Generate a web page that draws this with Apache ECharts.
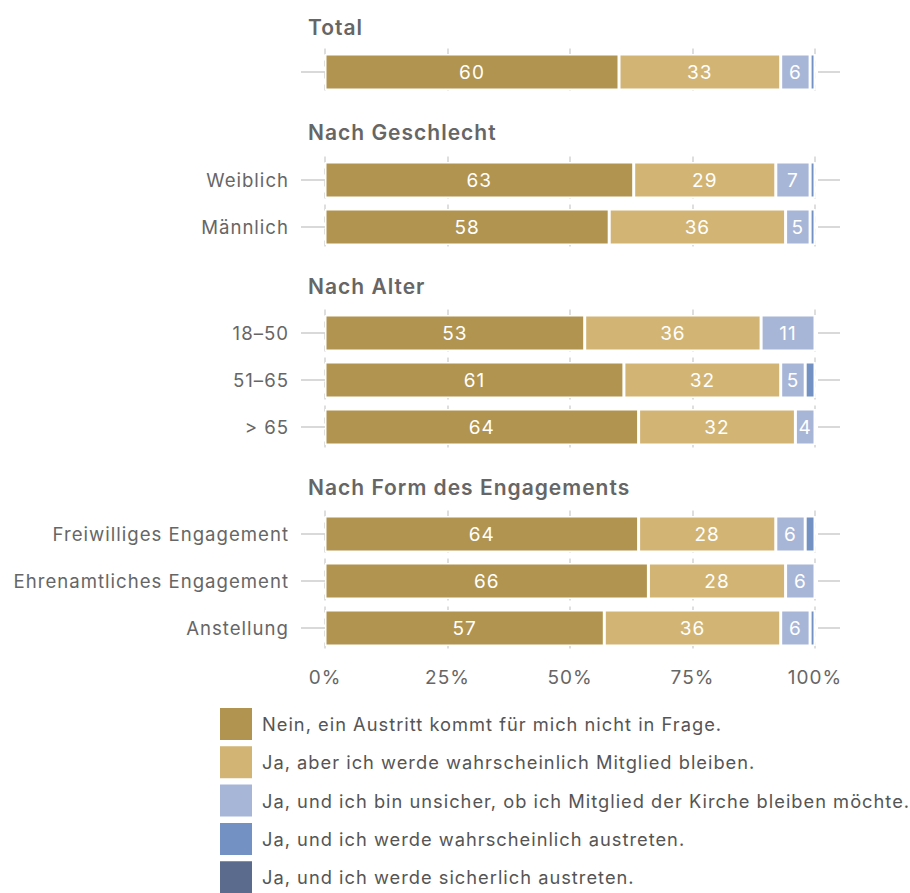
<!DOCTYPE html>
<html>
<head>
<meta charset="utf-8">
<script src="https://cdn.jsdelivr.net/npm/echarts@6/dist/echarts.min.js"></script>
<style>
  html, body { margin: 0; background: #fff; }
  #chart { width: 910px; height: 893px; }
  /* Originalschrift ist gesperrt */
  #chart text { letter-spacing: 1px; }
</style>
</head>
<body>
<div id="chart"></div>
<script>
// Gruppen und Zeilen
const groupTitles = ["Total", "Nach Geschlecht", "Nach Alter", "Nach Form des Engagements"];
const groupRows = [
  ["Total"],
  ["Weiblich", "Männlich"],
  ["18–50", "51–65", "> 65"],
  ["Freiwilliges Engagement", "Ehrenamtliches Engagement", "Anstellung"],
];
const xTicks = [0, 25, 50, 75, 100];

// Antworten (Prozent), Reihenfolge wie die Zeilen oben
const seriesNames = [
  "Nein, ein Austritt kommt für mich nicht in Frage.",
  "Ja, aber ich werde wahrscheinlich Mitglied bleiben.",
  "Ja, und ich bin unsicher, ob ich Mitglied der Kirche bleiben möchte.",
  "Ja, und ich werde wahrscheinlich austreten.",
  "Ja, und ich werde sicherlich austreten.",
];
const nein = [60, 63, 58, 53, 61, 64, 64, 66, 57];
const jaBleiben = [33, 29, 36, 36, 32, 32, 28, 28, 36];
const unsicher = [6, 7, 5, 11, 5, 4, 6, 6, 6];
const wahrscheinlichAus = [1, 1, 1, 0, 2, 0, 2, 0, 1];
const sicherAus = [0, 0, 0, 0, 0, 0, 0, 0, 0];
const seriesValues = [nein, jaBleiben, unsicher, wahrscheinlichAus, sicherAus];
const colors = ["#b1944f", "#d2b575", "#a7b6d7", "#7391c3", "#5b6b8d"];

const font = "Inter, 'Liberation Sans', sans-serif";
const rowH = 47;
const gridTops = [48.5, 156.5, 309.5, 510.5];
const headerY = [27, 132, 286, 487];

let grids = [], xAxes = [], yAxes = [], series = [], titles = [];
let offset = 0;
groupRows.forEach((rows, g) => {
  grids.push({ left: 325, right: 95, top: gridTops[g], height: rows.length * rowH });
  titles.push({
    text: groupTitles[g],
    left: 308,
    top: headerY[g] - 10,
    padding: 0,
    textStyle: { fontFamily: font, fontSize: 21, fontWeight: 600, color: "#666" },
  });
  xAxes.push({
    type: "value",
    gridIndex: g,
    min: xTicks[0],
    max: xTicks[xTicks.length - 1],
    interval: 25,
    axisLine: { show: false },
    axisTick: { show: false },
    axisLabel: {
      show: g === groupRows.length - 1,
      formatter: "{value}%",
      margin: 16,
      fontFamily: font,
      fontSize: 19,
      color: "#666",
    },
    splitLine: { lineStyle: { color: "#d4d4d4", width: 1.5, type: [6, 6] } },
  });
  // linke Achse mit Beschriftung
  yAxes.push({
    type: "category",
    gridIndex: g,
    data: rows,
    inverse: true,
    offset: 3,
    axisLine: { show: false },
    axisTick: { show: true, alignWithLabel: true, length: 24, lineStyle: { color: "#ccc", width: 1.5 } },
    axisLabel: { show: g > 0, margin: 33, fontFamily: font, fontSize: 18.6, color: "#666" },
  });
  // rechte Achse nur für die Striche
  yAxes.push({
    type: "category",
    gridIndex: g,
    position: "right",
    data: rows,
    inverse: true,
    offset: 3,
    axisLine: { show: false },
    axisTick: { show: true, alignWithLabel: true, length: 22, lineStyle: { color: "#ccc", width: 1.5 } },
    axisLabel: { show: false },
  });
  seriesNames.forEach((name, s) => {
    series.push({
      name: name,
      type: "bar",
      stack: "g" + g,
      xAxisIndex: g,
      yAxisIndex: g * 2,
      barWidth: 36,
      itemStyle: { color: colors[s], borderColor: "#fff", borderWidth: 1.5 },
      label: {
        show: true,
        position: "inside",
        fontFamily: font,
        fontSize: 19,
        color: "#fff",
        formatter: (p) => (p.value >= 4 ? p.value : ""),
      },
      emphasis: { disabled: true },
      data: seriesValues[s].slice(offset, offset + rows.length),
    });
  });
  offset += rows.length;
});

const chart = echarts.init(document.getElementById("chart"), null, { renderer: "svg" });
chart.setOption({
  animation: false,
  title: titles,
  grid: grids,
  xAxis: xAxes,
  yAxis: yAxes,
  legend: {
    data: seriesNames,
    orient: "vertical",
    left: 220,
    top: 708,
    height: 200,
    padding: 0,
    icon: "rect",
    itemWidth: 32,
    itemHeight: 32,
    itemGap: 6.3,
    itemStyle: { borderWidth: 0 },
    textStyle: { fontFamily: font, fontSize: 18.3, color: "#555", padding: [0, 0, 0, 5] },
  },
  series: series,
});
</script>
</body>
</html>
